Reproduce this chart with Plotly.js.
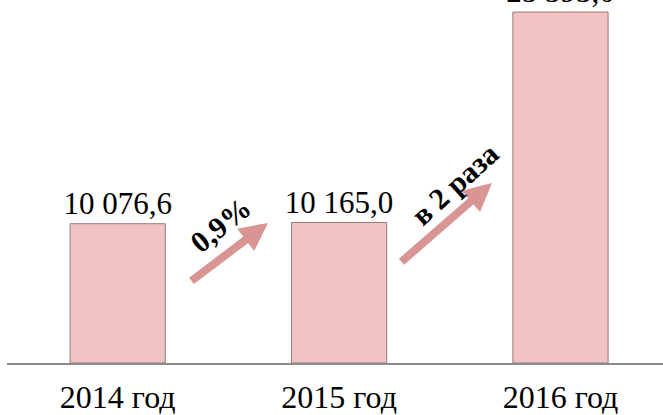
<!DOCTYPE html>
<html>
<head>
<meta charset="utf-8">
<script src="https://cdn.plot.ly/plotly-3.0.1.min.js"></script>
<style>html,body{margin:0;padding:0;background:#fff;}#chart{width:663px;height:415px;}</style>
</head>
<body>
<div id="chart"></div>
<script>
var categories = ['2014 год', '2015 год', '2016 год'];
var values = [10076.6, 10165.0, 25393.0];
var growthLabels = ['0,9%', 'в 2 раза'];

var serif = 'Liberation Serif, Times New Roman, serif';
var trace = {
  type: 'bar',
  x: categories,
  y: values,
  texttemplate: '%{y:,.1f}',
  textposition: 'outside',
  constraintext: 'none',
  cliponaxis: false,
  textfont: {family: serif, size: 31, color: '#000'},
  marker: {color: '#f2c3c3', line: {color: '#9a7a7a', width: 1}},
  hoverinfo: 'none'
};

var arrowColor = '#d99594';
var layout = {
  width: 663, height: 415,
  margin: {l: 7, r: 0, t: 0, b: 52},
  paper_bgcolor: '#fff', plot_bgcolor: '#fff',
  separators: ', ',
  bargap: 0.57,
  showlegend: false,
  xaxis: {
    range: [-0.5, 2.463],
    showline: true, linecolor: '#8c8c8c', linewidth: 1.5,
    showgrid: false, zeroline: false, ticks: '',
    ticklabelstandoff: 5,
    tickfont: {family: serif, size: 32, color: '#000'}
  },
  yaxis: {
    visible: false, range: [0, 26265], showgrid: false, zeroline: false
  },
  annotations: [
    {xref: 'paper', yref: 'paper', x: (268 - 7) / 656, y: (363 - 223) / 363, ax: -78, ay: 59,
     showarrow: true, arrowhead: 2, arrowsize: 0.7, arrowwidth: 8, arrowcolor: arrowColor, text: ''},
    {xref: 'paper', yref: 'paper', x: (492 - 7) / 656, y: (363 - 183) / 363, ax: -92, ay: 80,
     showarrow: true, arrowhead: 2, arrowsize: 0.7, arrowwidth: 8, arrowcolor: arrowColor, text: ''},
    {xref: 'paper', yref: 'paper', x: (221 - 7) / 656, y: (363 - 225) / 363,
     xanchor: 'center', yanchor: 'middle', showarrow: false, textangle: -39,
     text: '<b>' + growthLabels[0] + '</b>',
     font: {family: serif, size: 30, color: '#000'}},
    {xref: 'paper', yref: 'paper', x: (454 - 7) / 656, y: (363 - 184) / 363,
     xanchor: 'center', yanchor: 'middle', showarrow: false, textangle: -42,
     text: '<b>' + growthLabels[1] + '</b>',
     font: {family: serif, size: 30, color: '#000'}}
  ]
};

Plotly.newPlot('chart', [trace], layout, {staticPlot: true, displayModeBar: false});
</script>
</body>
</html>
